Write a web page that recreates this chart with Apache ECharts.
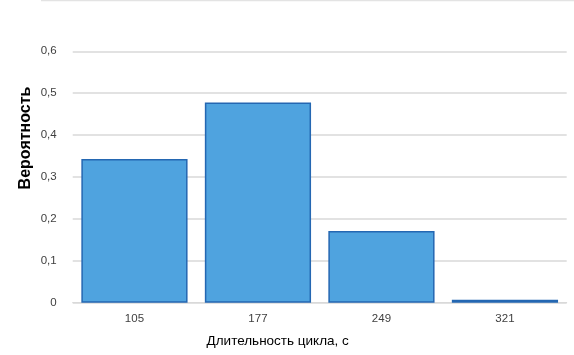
<!DOCTYPE html>
<html><head><meta charset="utf-8">
<script src="https://cdn.jsdelivr.net/npm/echarts@6/dist/echarts.min.js"></script>
<style>html,body{margin:0;padding:0;background:#fff}#c{width:574px;height:355px}</style>
</head><body><div id="c"></div>
<script>
const categories = ['105', '177', '249', '321'];
const probabilities = [0.343, 0.478, 0.171, 0.007];
const yTicks = [0, 0.1, 0.2, 0.3, 0.4, 0.5, 0.6];
const xAxisTitle = 'Длительность цикла, с';
const yAxisTitle = 'Вероятность';

const chart = echarts.init(document.getElementById('c'), null, {renderer: 'canvas'});
chart.setOption({
  animation: false,
  backgroundColor: '#fff',
  graphic: [{
    type: 'line', shape: {x1: 41, y1: 0.5, x2: 574, y2: 0.5},
    style: {stroke: '#e3e3e3', lineWidth: 1.5}
  }, {
    type: 'text', x: 25.5, y: 138, rotation: Math.PI / 2,
    style: {text: yAxisTitle, fill: '#000', font: 'bold 16px "Liberation Sans", Arial', align: 'center', verticalAlign: 'middle'}
  }],
  grid: {left: 72.7, right: 7.3, top: 51.3, bottom: 52.3},
  xAxis: {
    type: 'category',
    data: categories,
    axisLine: {show: true, lineStyle: {color: '#d9d9d9', width: 1}},
    axisTick: {show: false},
    axisLabel: {color: '#404040', fontSize: 11.5, fontFamily: 'Liberation Sans, Arial', margin: 10},
    name: xAxisTitle,
    nameLocation: 'middle',
    nameGap: 32,
    nameTextStyle: {color: '#000', fontSize: 13.5, fontFamily: 'Liberation Sans, Arial', padding: [0, 84, 0, 0]}
  },
  yAxis: {
    type: 'value',
    min: yTicks[0], max: yTicks[yTicks.length - 1], interval: 0.1,
    axisLine: {show: false},
    axisTick: {show: false},
    splitLine: {lineStyle: {color: '#d9d9d9', width: 1.5}},
    axisLabel: {
      color: '#404040', fontSize: 11.5, fontFamily: 'Liberation Sans, Arial', margin: 16,
      formatter: v => v === 0 ? '0' : v.toFixed(1).replace('.', ',')
    }
  },
  series: [{
    type: 'bar',
    data: probabilities,
    barCategoryGap: '14%',
    itemStyle: {color: '#4FA3DF', borderColor: '#2467B2', borderWidth: 1.5}
  }]
});
</script></body></html>
